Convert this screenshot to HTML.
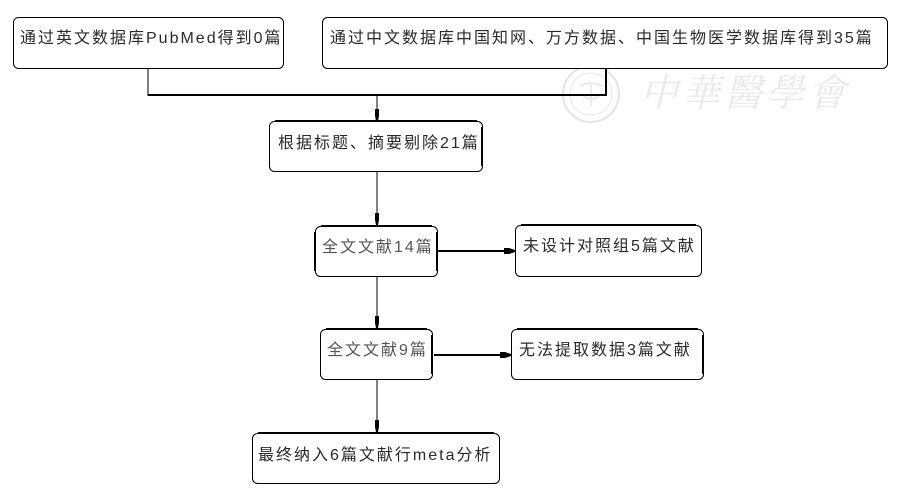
<!DOCTYPE html>
<html>
<head>
<meta charset="utf-8">
<style>
html,body{margin:0;padding:0;background:#fff;}
svg{display:block;}
text{font-family:"Liberation Sans","Noto Sans CJK SC",sans-serif;font-size:16px;letter-spacing:2px;fill:#2a2a2a;}
</style>
</head>
<body>
<svg width="903" height="497" viewBox="0 0 903 497" xmlns="http://www.w3.org/2000/svg">
  <!-- watermark -->
  <g opacity="0.9">
    <circle cx="591" cy="94" r="28" fill="none" stroke="#e2e2e2" stroke-width="2"/>
    <circle cx="591" cy="94" r="21" fill="none" stroke="#e6e6e6" stroke-width="1"/>
    <path d="M580 86 Q591 80 602 86 M591 84 L591 106 M583 96 Q591 102 599 96" fill="none" stroke="#e2e2e2" stroke-width="1.5"/>
    <text x="640" y="106" style="font-family:'Noto Serif CJK SC','Liberation Serif',serif;font-size:38px;letter-spacing:4px;fill:#e8e8e8;font-style:italic;">中華醫學會</text>
  </g>

  <!-- connectors -->
  <g stroke="#000" fill="none">
    <line x1="148" y1="68" x2="148" y2="96" stroke-width="1"/>
    <line x1="606" y1="68" x2="606" y2="96" stroke-width="2"/>
    <line x1="148" y1="95" x2="607" y2="95" stroke-width="2"/>
    <line x1="377" y1="95" x2="377" y2="120" stroke-width="1"/>
    <line x1="377" y1="171" x2="377" y2="225" stroke-width="1"/>
    <line x1="377" y1="276" x2="377" y2="328" stroke-width="1"/>
    <line x1="377" y1="379" x2="377" y2="432" stroke-width="1"/>
    <line x1="438" y1="251" x2="514" y2="251" stroke-width="2"/>
    <line x1="434" y1="355" x2="510" y2="355" stroke-width="2"/>
  </g>
  <g fill="#000">
    <polygon points="375,109 379,109 379,116 378,121 376,121 375,116"/>
    <polygon points="375,213 379,213 379,220 378,225 376,225 375,220"/>
    <polygon points="375,316 379,316 379,323 378,328 376,328 375,323"/>
    <polygon points="375,420 379,420 379,427 378,432 376,432 375,427"/>
    <polygon points="504,248 509,248 515,250 515,252 509,254 504,254"/>
    <polygon points="500,352 505,352 511,354 511,356 505,358 500,358"/>
  </g>

  <!-- boxes -->
  <g fill="#fff" stroke="#000" stroke-width="1">
    <rect x="13.5" y="17.5" width="270" height="51" rx="5"/>
    <rect x="322.5" y="17.5" width="565" height="51" rx="5"/>
    <rect x="269.5" y="121.5" width="213" height="50" rx="5"/>
    <rect x="315.5" y="226.5" width="122" height="50" rx="5"/>
    <rect x="515.5" y="225.5" width="186" height="51" rx="5"/>
    <rect x="320.5" y="329.5" width="112" height="50" rx="5"/>
    <rect x="511.5" y="329.5" width="192" height="50" rx="5"/>
    <rect x="252.5" y="433.5" width="247" height="50" rx="5"/>
  </g>
  <!-- thicker edges -->
  <g stroke="#000" stroke-width="2" fill="none">
    <line x1="275" y1="121" x2="477" y2="121"/>
    <line x1="482" y1="127" x2="482" y2="166"/>
    <line x1="321" y1="226" x2="432" y2="226"/>
    <line x1="315" y1="232" x2="315" y2="271"/>
    <line x1="437" y1="232" x2="437" y2="271"/>
    <line x1="521" y1="225" x2="696" y2="225"/>
    <line x1="326" y1="329" x2="427" y2="329"/>
    <line x1="432" y1="335" x2="432" y2="374"/>
    <line x1="517" y1="329" x2="698" y2="329"/>
    <line x1="703" y1="335" x2="703" y2="374"/>
    <line x1="258" y1="433" x2="494" y2="433"/>
  </g>

  <!-- labels -->
  <text x="20" y="43">通过英文数据库PubMed得到0篇</text>
  <text x="330" y="43">通过中文数据库中国知网、万方数据、中国生物医学数据库得到35篇</text>
  <text x="278" y="148">根据标题、摘要剔除21篇</text>
  <text x="322" y="252" style="fill:#555;">全文文献14篇</text>
  <text x="523" y="251">未设计对照组5篇文献</text>
  <text x="327" y="355" style="fill:#555;">全文文献9篇</text>
  <text x="519" y="355">无法提取数据3篇文献</text>
  <text x="258" y="460">最终纳入6篇文献行meta分析</text>
</svg>
</body>
</html>
